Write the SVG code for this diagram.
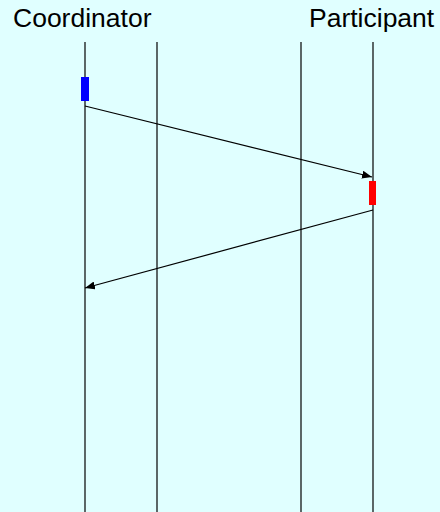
<svg xmlns="http://www.w3.org/2000/svg" width="440" height="512" viewBox="0 0 440 512">
<defs>
<marker id="ah" markerWidth="10" markerHeight="8" refX="10" refY="4" orient="auto" markerUnits="userSpaceOnUse">
<path d="M0,0 L10,4 L0,8 z" fill="#000"/>
</marker>
<style>
.lbl{font-family:"Liberation Sans",Arial,sans-serif;font-size:26.5px;fill:#000}
.life{stroke:#000;stroke-width:1.2}
.msg{stroke:#000;stroke-width:1.2;fill:none;marker-end:url(#ah)}
</style>
</defs>
<rect x="0" y="0" width="440" height="512" fill="#E0FFFF"/>
<g id="coordinator">
<text class="lbl" x="13" y="27">Coordinator</text>
<line class="life" x1="85" y1="42" x2="85" y2="512"/>
<rect x="81" y="77" width="8" height="24" fill="#0000FF"/>
</g>
<g id="lane2">
<line class="life" x1="157" y1="42" x2="157" y2="512"/>
</g>
<g id="lane3">
<line class="life" x1="301" y1="42" x2="301" y2="512"/>
</g>
<g id="participant">
<text class="lbl" x="309" y="27">Participant</text>
<line class="life" x1="373" y1="42" x2="373" y2="512"/>
<rect x="369" y="181" width="7" height="24" fill="#FF0000"/>
</g>
<g id="connectors">
<line class="msg" x1="85" y1="106" x2="372" y2="177"/>
<line class="msg" x1="373" y1="210" x2="85" y2="288"/>
</g>
</svg>
